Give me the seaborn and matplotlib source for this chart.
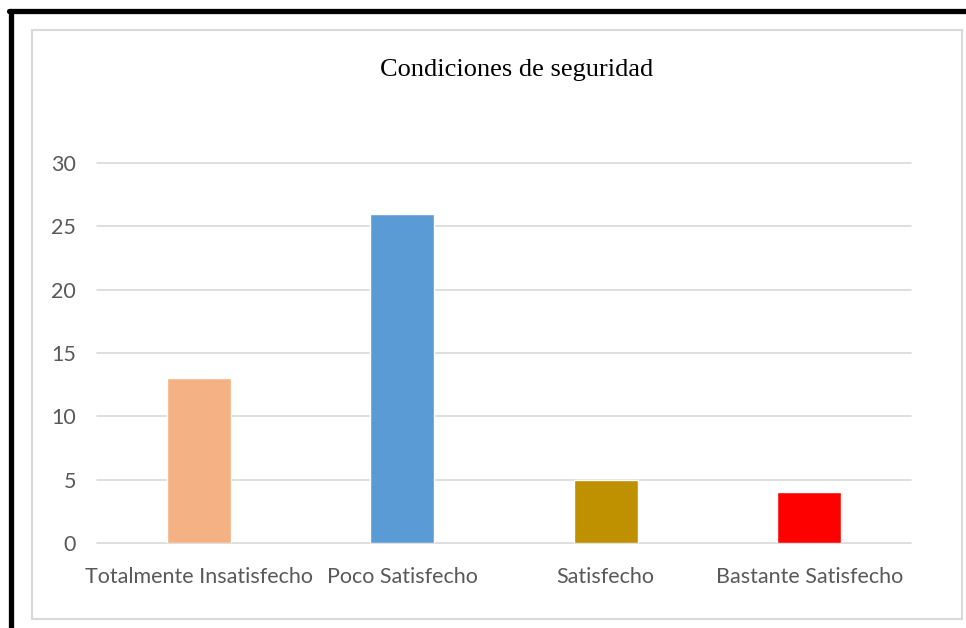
import matplotlib
matplotlib.use("Agg")
import matplotlib.pyplot as plt
import seaborn as sns
import pandas as pd
from matplotlib.lines import Line2D
from matplotlib.patches import Rectangle

# ── datos ─────────────────────────────────────────────
categorias = ["Totalmente Insatisfecho", "Poco Satisfecho", "Satisfecho", "Bastante Satisfecho"]
valores = [13, 26, 5, 4]
colores = ["#F4B183", "#5B9BD5", "#BF9000", "#FF0000"]
yticks = [0, 5, 10, 15, 20, 25, 30]

df = pd.DataFrame({"categoria": categorias, "valor": valores})

sns.set_theme(style="white")
plt.rcParams["font.family"] = ["Lato", "DejaVu Sans"]

W, H = 966, 628
fig = plt.figure(figsize=(W / 100, H / 100), dpi=100)
fig.patch.set_facecolor("white")

ax = fig.add_axes([97 / W, 1 - 543 / H, (911 - 97) / W, (543 - 163) / H])
sns.barplot(data=df, x="categoria", y="valor", hue="categoria",
            palette=colores, width=0.315, legend=False, ax=ax,
            saturation=1, zorder=2)

ax.set_ylim(0, 30)
ax.set_yticks(yticks)
ax.set_xlim(-0.5, len(categorias) - 0.5)
ax.grid(axis="y", color="#D9D9D9", linewidth=1.2, zorder=0)
for g in ax.get_ygridlines():
    g.set_clip_on(False)
for s in ax.spines.values():
    s.set_visible(False)
ax.set_xlabel("")
ax.set_ylabel("")
ax.tick_params(axis="y", colors="#595959", labelsize=15.5, length=0, pad=15)
ax.tick_params(axis="x", colors="#595959", labelsize=15.5, length=0, pad=17)

fig.text(517 / W, 1 - 70 / H, "Condiciones de seguridad",
         family="Liberation Serif", fontsize=19, color="black",
         ha="center", va="center")

# borde gris del gráfico
fig.patches.append(Rectangle((32 / W, 1 - 619 / H), (962 - 32) / W, (619 - 30) / H,
                             transform=fig.transFigure, fill=False,
                             edgecolor="#D9D9D9", linewidth=1.5))
# marco negro exterior
fig.lines.append(Line2D([10.5 / W, 10.5 / W], [0, 1 - 10.5 / H],
                        transform=fig.transFigure, color="black", linewidth=3.8))
fig.lines.append(Line2D([8.6 / W, 1], [1 - 10.5 / H, 1 - 10.5 / H],
                        transform=fig.transFigure, color="black", linewidth=3.8))

fig.savefig("out.png", dpi=100, facecolor="white")
